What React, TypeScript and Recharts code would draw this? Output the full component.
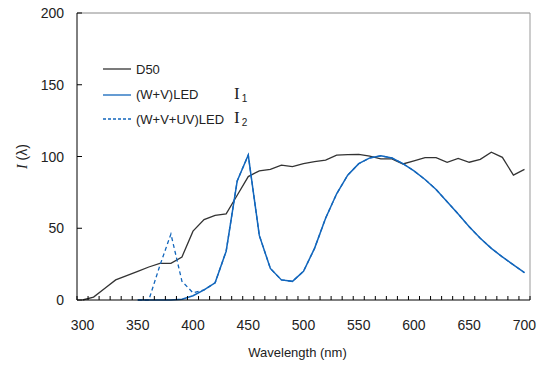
import React from 'react';
import { LineChart, Line, XAxis, YAxis, ReferenceLine } from 'recharts';

// wavelength categories, nm
const wavelengths = [
  300, 310, 320, 330, 340, 350, 360, 370, 380, 390,
  400, 410, 420, 430, 440, 450, 460, 470, 480, 490,
  500, 510, 520, 530, 540, 550, 560, 570, 580, 590,
  600, 610, 620, 630, 640, 650, 660, 670, 680, 690, 700,
];

const d50 = [
  0, 2, 8, 14, 17, 20, 23, 25.5, 25.5, 30,
  48, 56, 59, 60, 73, 86, 90, 91, 94, 93,
  95, 96.5, 97.5, 101, 101.3, 101.5, 100.3, 98.3, 98.3, 94.8,
  97, 99.2, 99.2, 96, 98.7, 96, 98, 103, 99.4, 87, 91,
];

const ledWV = [
  null, null, null, null, null, 0, 0, 0, 0, 0.5,
  3, 7, 12, 34, 83, 101, 45, 22, 14, 13,
  20, 36, 57, 74, 87, 95, 99, 100.5, 99, 95,
  90, 84, 77, 68.5, 60, 51, 43, 36, 30, 24.5, 19,
];

const ledWVUV = [
  null, null, null, null, null, 0, 0, 24, 46, 13,
  5, 7, 12, 34, 83, 101, 45, 22, 14, 13,
  20, 36, 57, 74, 87, 95, 99, 100.5, 99, 95,
  90, 84, 77, 68.5, 60, 51, 43, 36, 30, 24.5, 19,
];

const xTickLabels = [300, 350, 400, 450, 500, 550, 600, 650, 700];
const yTicks = [0, 50, 100, 150, 200];

const BLUE = '#1266bc';
const DARK = '#333';
const FONT = '"Liberation Sans", Arial, sans-serif';

const data = wavelengths.map((wl, i) => ({
  wl,
  d50: d50[i],
  wv: ledWV[i],
  wvuv: ledWVUV[i],
}));

// category boundaries (tick marks sit between categories)
const boundaries = [...wavelengths.map((w) => w - 5), 705];
const xTicks = [...boundaries, ...xTickLabels].sort((a, b) => a - b);

const XTick = (props: any) => {
  const { x, y, payload } = props;
  const v = payload.value;
  if (v % 50 === 0) {
    return (
      <text x={x} y={y + 30} textAnchor="middle" fontSize={14} fill="#222" fontFamily={FONT}>
        {v}
      </text>
    );
  }
  return <line x1={x} x2={x} y1={y} y2={y - 4} stroke="#000" strokeWidth={1} />;
};

const YTick = (props: any) => {
  const { x, y, payload } = props;
  return (
    <g>
      <line x1={x} x2={x + 5} y1={y} y2={y} stroke="#000" strokeWidth={1} />
      <text x={x - 13} y={y + 5} textAnchor="end" fontSize={14} fill="#222" fontFamily={FONT}>
        {payload.value}
      </text>
    </g>
  );
};

const YLabel = (props: any) => {
  const vb = props.viewBox;
  const cx = vb.x + 22;
  const cy = vb.y + vb.height / 2;
  return (
    <text
      x={cx}
      y={cy}
      transform={`rotate(-90 ${cx} ${cy})`}
      textAnchor="middle"
      dominantBaseline="central"
      fontSize={14}
      fill="#222"
    >
      <tspan fontFamily='"Liberation Serif", serif' fontStyle="italic">I</tspan>
      <tspan fontFamily={FONT}> (λ)</tspan>
    </text>
  );
};

const XLabel = (props: any) => {
  const vb = props.viewBox;
  return (
    <text
      x={vb.x + vb.width / 2 - 6}
      y={vb.y + 57}
      textAnchor="middle"
      fontSize={13}
      fill="#222"
      fontFamily={FONT}
    >
      Wavelength (nm)
    </text>
  );
};

const legendItems = [
  { name: 'D50', color: DARK, dash: undefined, sym: '', top: 69 },
  { name: '(W+V)LED', color: BLUE, dash: undefined, sym: '1', top: 94.5 },
  { name: '(W+V+UV)LED', color: BLUE, dash: '3 2', sym: '2', top: 119 },
];

const App: React.FC = () => {
  return (
    <div style={{ position: 'relative', width: 542, height: 365, background: '#fff' }}>
      <style>{'body{margin:0;}'}</style>
      <LineChart width={542} height={365} data={data} margin={{ top: 13, right: 12, bottom: 0, left: 0 }}>
        <XAxis
          dataKey="wl"
          type="number"
          domain={[295, 705]}
          ticks={xTicks}
          interval={0}
          allowDataOverflow
          height={65}
          tickLine={false}
          tickSize={0}
          tickMargin={0}
          axisLine={{ stroke: '#000' }}
          tick={<XTick />}
          label={<XLabel />}
        />
        <YAxis
          domain={[0, 200]}
          ticks={yTicks}
          interval={0}
          width={77}
          tickLine={false}
          tickSize={0}
          tickMargin={0}
          axisLine={{ stroke: '#000' }}
          tick={<YTick />}
          label={<YLabel />}
        />
        <ReferenceLine y={200} stroke="#888" strokeWidth={1} />
        <ReferenceLine x={705} stroke="#999" strokeWidth={1} />
        <Line type="linear" dataKey="d50" stroke={DARK} strokeWidth={1.3} dot={false} isAnimationActive={false} />
        <Line
          type="linear"
          dataKey="wvuv"
          stroke={BLUE}
          strokeWidth={1.3}
          strokeDasharray="4 3"
          dot={false}
          isAnimationActive={false}
        />
        <Line type="linear" dataKey="wv" stroke={BLUE} strokeWidth={1.5} dot={false} isAnimationActive={false} />
      </LineChart>
      {legendItems.map((it) => (
        <div
          key={it.name}
          style={{
            position: 'absolute',
            left: 103,
            top: it.top - 10,
            height: 20,
            display: 'flex',
            alignItems: 'center',
            fontFamily: FONT,
            fontSize: 13,
            color: '#222',
            whiteSpace: 'nowrap',
          }}
        >
          <svg width={28} height={4} style={{ display: 'block' }}>
            <line x1={0} x2={28} y1={2} y2={2} stroke={it.color} strokeWidth={1.3} strokeDasharray={it.dash} />
          </svg>
          <span style={{ marginLeft: 5 }}>{it.name}</span>
        </div>
      ))}
      {legendItems
        .filter((it) => it.sym)
        .map((it) => (
          <div
            key={it.sym}
            style={{ position: 'absolute', left: 234, top: it.top - 11, height: 22, whiteSpace: 'nowrap', color: '#222' }}
          >
            <span style={{ fontFamily: '"Liberation Serif", serif', fontSize: 17 }}>I</span>
            <span style={{ fontFamily: FONT, fontSize: 10, position: 'relative', top: 3, marginLeft: 2 }}>{it.sym}</span>
          </div>
        ))}
    </div>
  );
};

export default App;
